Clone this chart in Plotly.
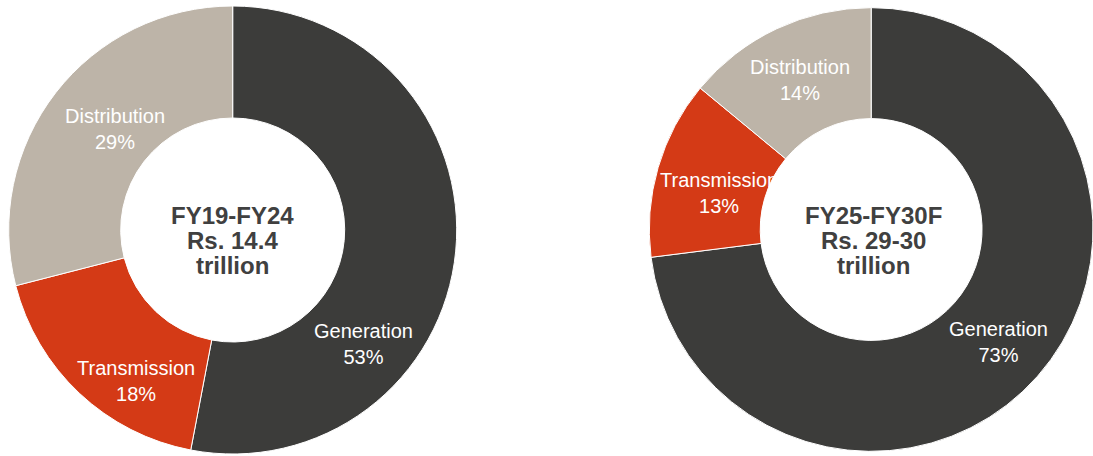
import plotly.graph_objects as go

# ---- data ----
segments = ["Generation", "Transmission", "Distribution"]
share_fy19_fy24 = [53, 18, 29]
share_fy25_fy30 = [73, 13, 14]
title_fy19_fy24 = ["FY19-FY24", "Rs. 14.4", "trillion"]
title_fy25_fy30 = ["FY25-FY30F", "Rs. 29-30", "trillion"]

# ---- styles / layout ----
W, H = 1093, 456
colors = ["#3C3C3A", "#D43A16", "#BDB4A8"]
LABEL_FONT = dict(family="Liberation Sans, Arial, sans-serif", size=20, color="#FFFFFF")
TITLE_FONT = dict(family="Liberation Sans, Arial, sans-serif", size=24, color="#404040")

def dom(cx, cy, r):
    # pixel centre/radius -> paper domain
    return dict(x=[(cx - r) / W, (cx + r) / W], y=[(H - cy - r) / H, (H - cy + r) / H])

L_C, L_R = (232.7, 230.0), 224.0
R_C, R_R = (871.15, 229.5), 221.85
HOLE = 0.5

# label anchor points (px), in segment order
left_label_pos = [(363, 344), (135.5, 381), (115, 129)]
right_label_pos = [(998, 342), (719, 193), (800, 80)]
title_line_y = [215.0, 240.0, 265.0]

fig = go.Figure()

for vals, (c, r) in [(share_fy19_fy24, (L_C, L_R)), (share_fy25_fy30, (R_C, R_R))]:
    fig.add_trace(go.Pie(
        labels=segments, values=vals, hole=HOLE, sort=False,
        direction="clockwise", rotation=0, domain=dom(*c, r),
        marker=dict(colors=colors, line=dict(color="#FFFFFF", width=1)),
        textinfo="none", hoverinfo="label+percent", showlegend=False,
    ))

annotations = []
for vals, positions in [(share_fy19_fy24, left_label_pos), (share_fy25_fy30, right_label_pos)]:
    for seg, val, (px, py) in zip(segments, vals, positions):
        annotations.append(dict(
            x=px / W, y=1 - py / H, xref="paper", yref="paper",
            text=f"{seg}<br>{val}%", showarrow=False, font=LABEL_FONT,
            xanchor="center", yanchor="middle", align="center",
        ))

for lines, (cx, cy) in [(title_fy19_fy24, L_C), (title_fy25_fy30, (873.0, R_C[1]))]:
    for line, ly in zip(lines, title_line_y):
        annotations.append(dict(
            x=cx / W, y=1 - ly / H, xref="paper", yref="paper",
            text=f"<b>{line}</b>", showarrow=False, font=TITLE_FONT,
            xanchor="center", yanchor="middle",
        ))

fig.update_layout(
    width=W, height=H, margin=dict(l=0, r=0, t=0, b=0),
    paper_bgcolor="#FFFFFF", plot_bgcolor="#FFFFFF",
    annotations=annotations,
)

fig.write_html(
    "out.html",
    config={"displayModeBar": False},
    post_script="document.body.style.margin='0px';document.body.style.overflow='hidden';",
)
